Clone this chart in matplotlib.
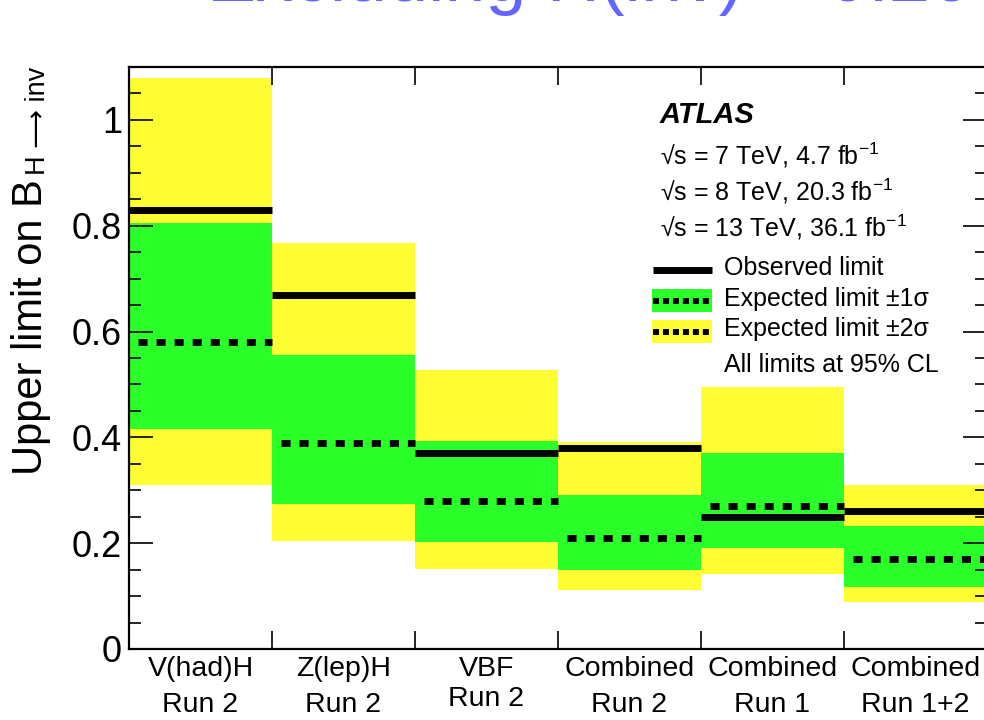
import matplotlib
matplotlib.use("Agg")
import matplotlib.pyplot as plt
from matplotlib.patches import Rectangle
from matplotlib.lines import Line2D
from matplotlib.transforms import Affine2D
from matplotlib.ticker import MultipleLocator, FixedLocator, NullFormatter

plt.rcParams['font.family'] = ['Liberation Sans', 'DejaVu Sans']
plt.rcParams['mathtext.fontset'] = 'custom'
plt.rcParams['mathtext.rm'] = 'Liberation Sans'
plt.rcParams['mathtext.it'] = 'Liberation Sans:italic'
plt.rcParams['mathtext.bf'] = 'Liberation Sans:bold'

# ---- data: 95% CL upper limits on B(H -> inv) ----
categories = ["V(had)H\nRun 2", "Z(lep)H\nRun 2", "VBF\nRun 2",
              "Combined\nRun 2", "Combined\nRun 1", "Combined\nRun 1+2"]
observed = [0.83, 0.67, 0.37, 0.38, 0.25, 0.26]
expected = [0.58, 0.39, 0.28, 0.21, 0.27, 0.17]
minus_2sigma = [0.31, 0.205, 0.151, 0.112, 0.142, 0.088]
minus_1sigma = [0.415, 0.275, 0.203, 0.150, 0.190, 0.118]
plus_1sigma = [0.805, 0.556, 0.394, 0.292, 0.370, 0.232]
plus_2sigma = [1.08, 0.768, 0.528, 0.391, 0.496, 0.310]
y_ticks = [0, 0.2, 0.4, 0.6, 0.8, 1]
y_tick_labels = ["0", "0.2", "0.4", "0.6", "0.8", "1"]

YELLOW = '#fefe33'
GREEN = '#2aff2a'

W, H = 984, 720
fig = plt.figure(figsize=(W / 100, H / 100), dpi=100)
# helper transform: pixel coordinates measured from the top-left corner
pix = Affine2D().scale(1.0 / W, -1.0 / H).translate(0, 1) + fig.transFigure

ax = fig.add_axes([129 / W, (H - 649) / H, (987 - 129) / W, (649 - 67) / H])
ax.set_axisbelow(False)

n = len(categories)
left = list(range(n))

ax.bar(left, [t - b for t, b in zip(plus_2sigma, minus_2sigma)], bottom=minus_2sigma,
       width=1.0, align='edge', color=YELLOW, linewidth=0, zorder=1)
ax.bar(left, [t - b for t, b in zip(plus_1sigma, minus_1sigma)], bottom=minus_1sigma,
       width=1.0, align='edge', color=GREEN, linewidth=0, zorder=1.1)

for i in range(n):
    ax.plot([i, i + 1], [expected[i]] * 2, color='black', lw=5,
            linestyle=(1.3, (1.3, 1.3)), dash_capstyle='butt',
            solid_capstyle='butt', zorder=2)
    ax.plot([i, i + 1], [observed[i]] * 2, color='black', lw=5,
            solid_capstyle='butt', zorder=2.2)

ax.set_xlim(0, n)
ax.set_ylim(0, 1.1)

# y axis: ROOT style inward ticks on both sides
ax.yaxis.set_major_locator(FixedLocator(y_ticks))
ax.set_yticklabels(y_tick_labels, fontsize=26)
ax.yaxis.set_minor_locator(MultipleLocator(0.05))
ax.tick_params(axis='y', which='major', direction='in', length=17, width=1.2,
               left=True, right=True, pad=5)
ax.tick_params(axis='y', which='minor', direction='in', length=8.6, width=1.2,
               left=True, right=True)

# x axis: ticks at bin boundaries, labels centred in bins
ax.xaxis.set_major_locator(FixedLocator(list(range(1, n))))
ax.xaxis.set_major_formatter(NullFormatter())
ax.xaxis.set_minor_locator(FixedLocator([i + 0.5 for i in range(n)]))
labels = ax.set_xticklabels(categories, minor=True, fontsize=20.5, linespacing=1.5)
labels[2].set_linespacing(1.2)
ax.tick_params(axis='x', which='major', direction='in', length=13, width=1.2,
               bottom=True, top=True)
ax.tick_params(axis='x', which='minor', length=0, pad=5)

for sp in ax.spines.values():
    sp.set_linewidth(1.6)

# y axis title (rotated), with a hand-sized subscript
ylab = fig.text(42, 475, 'Upper limit on B', transform=pix, rotation=90,
                rotation_mode='anchor', ha='left', va='baseline', fontsize=30)
renderer = fig.canvas.get_renderer()
ext = ylab.get_window_extent(renderer)
top_px = H - ext.y1
fig.text(45, top_px - 4, 'H ⟶ inv', transform=pix, rotation=90,
         rotation_mode='anchor', ha='left', va='baseline', fontsize=19.5,
         family=['Liberation Sans', 'DejaVu Sans'])

# experiment label and legend
fig.text(660, 123, 'ATLAS', transform=pix, fontsize=21, fontweight='bold',
         fontstyle='italic', va='baseline')
for txt, yb in [(r'√s = 7 TeV, 4.7 fb$^{-1}$', 165),
                (r'√s = 8 TeV, 20.3 fb$^{-1}$', 200),
                (r'√s = 13 TeV, 36.1 fb$^{-1}$', 237)]:
    fig.text(660, yb, txt, transform=pix, fontsize=18, va='baseline')

fig.add_artist(Line2D([653, 712], [270, 270], transform=pix, color='black',
                      lw=5, solid_capstyle='butt'))
fig.add_artist(Rectangle((652, 289), 60, 23, transform=pix, color=GREEN, lw=0))
fig.add_artist(Rectangle((652, 320), 60, 23, transform=pix, color=YELLOW, lw=0))
for yc in (300.5, 331.5):
    fig.add_artist(Line2D([653, 712], [yc, yc], transform=pix, color='black',
                          lw=4.3, linestyle=(0, (1.0, 0.67)), dash_capstyle='butt'))

for txt, yb in [('Observed limit', 275), ('Expected limit ±1σ', 306),
                ('Expected limit ±2σ', 336), ('All limits at 95% CL', 372)]:
    fig.text(724, yb, txt, transform=pix, fontsize=18, va='baseline')

# slide heading (partly outside the canvas)
fig.text(207, 1, 'Excluding H(inv) < 0.26', transform=pix, fontsize=53,
         color='#6464ff', va='baseline')

fig.savefig('out.png', dpi=100)
